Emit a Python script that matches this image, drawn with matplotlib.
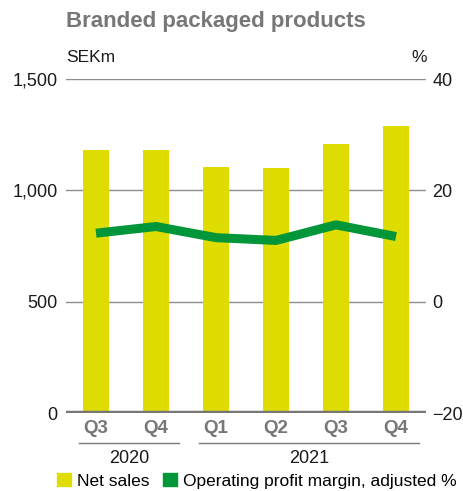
import matplotlib
matplotlib.use('Agg')
import matplotlib.pyplot as plt
from matplotlib.patches import Patch
import numpy as np

plt.rcParams['font.family'] = ['Liberation Sans', 'DejaVu Sans']

quarters = ['Q3', 'Q4', 'Q1', 'Q2', 'Q3', 'Q4']
years = ['2020', '2021']
year_groups = [(0, 1), (2, 5)]  # first and last quarter index of each year
net_sales = [1180, 1180, 1103, 1099, 1207, 1288]
op_margin = [12.3, 13.5, 11.5, 11.0, 13.8, 11.7]

YELLOW = '#dedc00'
GREEN = '#009639'
GRAY = '#777777'

fig = plt.figure(figsize=(4.64, 4.91), dpi=100)
ax1 = fig.add_axes([66 / 464, 1 - 413 / 491, 360 / 464, 334 / 491])
ax2 = ax1.twinx()

x = np.arange(len(quarters))
ax1.bar(x, net_sales, width=0.43, color=YELLOW, zorder=2)
ax1.set_xlim(-0.5, len(quarters) - 0.5)
ax1.set_ylim(0, 1500)
ax1.set_yticks([0, 500, 1000, 1500])
ax1.set_yticklabels(['0', '500', '1,000', '1,500'])
for v in [500, 1000, 1500]:
    ax1.axhline(v, color='#8c8c8c', lw=1.0, zorder=1)
ax1.axhline(0, color=GRAY, lw=3.2, zorder=3)

ax2.plot(x, op_margin, color=GREEN, lw=6.5, solid_capstyle='butt', zorder=4)
ax2.set_ylim(-20, 40)
ax2.set_yticks([-20, 0, 20, 40])

for ax in (ax1, ax2):
    for s in ax.spines.values():
        s.set_visible(False)
    ax.tick_params(length=0, labelsize=13, colors='#1a1a1a')
    ax.set_xticks([])
ax1.tick_params(axis='y', pad=6)
ax2.tick_params(axis='y', pad=4.5)
ax1.set_axisbelow(True)

tr = ax1.get_xaxis_transform()
for i, q in enumerate(quarters):
    ax1.text(i, -0.045, q, transform=tr, ha='center', va='center',
             fontsize=13.5, fontweight='bold', color=GRAY, clip_on=False)
for yr, (a, b) in zip(years, year_groups):
    x0, x1 = a - 0.28, b + 0.38
    ax1.plot([x0, x1], [-0.09, -0.09], transform=tr, color=GRAY, lw=1.0, clip_on=False)
    ax1.text((x0 + x1) / 2, -0.135, yr, transform=tr, ha='center', va='center',
             fontsize=13, color='#1a1a1a', clip_on=False)

fig.text(66 / 464, 1 - 22 / 491, 'Branded packaged products', fontsize=16,
         fontweight='bold', color=GRAY, ha='left', va='center')
fig.text(66 / 464, 1 - 58 / 491, 'SEKm', fontsize=12.5, color='#1a1a1a', ha='left', va='center')
fig.text(419 / 464, 1 - 58 / 491, '%', fontsize=12.5, color='#1a1a1a', ha='center', va='center')

handles = [Patch(color=YELLOW, label='Net sales'),
           Patch(color=GREEN, label='Operating profit margin, adjusted %')]
fig.legend(handles=handles, loc='center left', bbox_to_anchor=(50 / 464, 10 / 491),
           ncol=2, frameon=False, fontsize=12.5, handlelength=0.8, handleheight=0.8,
           handletextpad=0.35, columnspacing=0.8, borderaxespad=0)

fig.savefig('out.png', dpi=100)
